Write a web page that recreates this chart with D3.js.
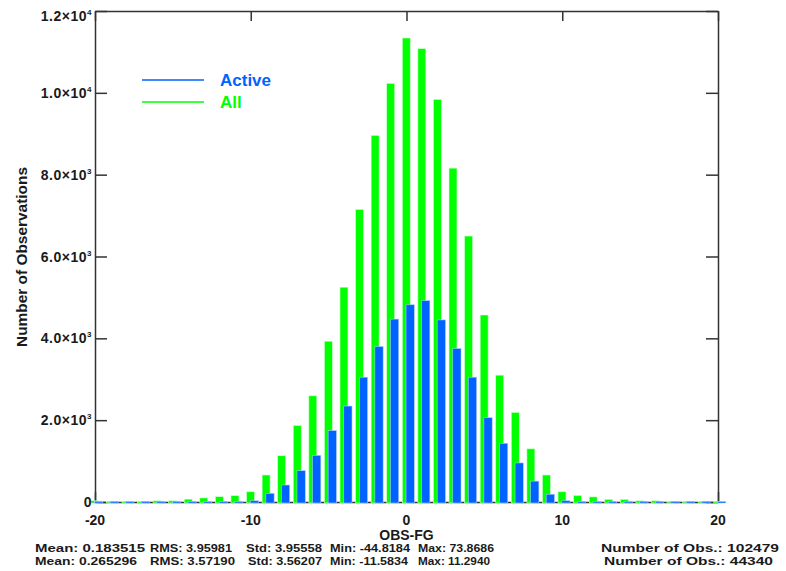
<!DOCTYPE html>
<html>
<head>
<meta charset="utf-8">
<script src="https://cdn.jsdelivr.net/npm/d3@7"></script>
<style>
  body { margin: 0; background: #fff; }
  svg { display: block; }
  text { font-family: "Liberation Sans", Arial, sans-serif; font-weight: bold; fill: #1a1a1a; }
</style>
</head>
<body>
<div id="chart"></div>
<script>
// histogram of OBS-FG, bins of width 1
var binCenters = [-20, -19, -18, -17, -16, -15, -14, -13, -12, -11, -10, -9, -8, -7, -6, -5, -4, -3, -2, -1,
  0, 1, 2, 3, 4, 5, 6, 7, 8, 9, 10, 11, 12, 13, 14, 15, 16, 17, 18, 19, 20];
var allCounts = [30, 8, 8, 8, 30, 30, 70, 100, 130, 155, 250, 660, 1130, 1870, 2595, 3930, 5250, 7150, 8960, 10230,
  11340, 11080, 9840, 8160, 6500, 4570, 3100, 2190, 1300, 660, 250, 160, 125, 65, 65, 30, 30, 8, 8, 8, 8];
var activeCounts = [3, 3, 3, 3, 3, 3, 3, 3, 3, 10, 30, 212, 415, 765, 1140, 1745, 2345, 3050, 3800, 4470,
  4820, 4920, 4450, 3750, 3050, 2060, 1435, 955, 510, 190, 30, 8, 3, 3, 3, 3, 3, 3, 3, 3, 3];

var xTickValues = [-20, -10, 0, 10, 20];
var xTickLabels = ["-20", "-10", "0", "10", "20"];
var yTickValues = [0, 2000, 4000, 6000, 8000, 10000, 12000];
var yTickMantissa = ["0", "2.0", "4.0", "6.0", "8.0", "1.0", "1.2"];
var yTickExponent = ["", "3", "3", "3", "3", "4", "4"];

var legendNames = ["Active", "All"];
var legendColors = ["#0062ff", "#00ff00"];

var statsNames = ["Mean:", "RMS:", "Std:", "Min:", "Max:", "Number of Obs.:"];
var statsAll = ["0.183515", "3.95981", "3.95558", "-44.8184", "73.8686", "102479"];
var statsActive = ["0.265296", "3.57190", "3.56207", "-11.5834", "11.2940", "44340"];

var W = 786, H = 571;
var margin = { top: 11, right: 68, bottom: 69, left: 95 };

var svg = d3.select("#chart").append("svg")
  .attr("width", W)
  .attr("height", H);

var x = d3.scaleLinear().domain([-20, 20]).range([margin.left, W - margin.right]);
var y = d3.scaleLinear().domain([0, 12000]).range([H - margin.bottom, margin.top]);

var axisColor = "#333";

// axes (ticks pointing inward, on all four sides)
function styleAxis(g) {
  g.selectAll("path, line").attr("stroke", axisColor).attr("stroke-width", 1.5);
  g.selectAll("text").remove();
}
svg.append("g")
  .attr("transform", "translate(" + margin.left + ",0)")
  .call(d3.axisLeft(y).tickValues(yTickValues).tickSizeInner(-12).tickSizeOuter(0))
  .call(styleAxis);
svg.append("g")
  .attr("transform", "translate(" + (W - margin.right) + ",0)")
  .call(d3.axisRight(y).tickValues(yTickValues).tickSizeInner(-12).tickSizeOuter(0))
  .call(styleAxis);
svg.append("g")
  .attr("transform", "translate(0," + margin.top + ")")
  .call(d3.axisTop(x).tickValues(xTickValues).tickSizeInner(-10).tickSizeOuter(0))
  .call(styleAxis);
svg.append("g")
  .attr("transform", "translate(0," + (H - margin.bottom) + ")")
  .call(d3.axisBottom(x).tickValues(xTickValues).tickSizeInner(-10).tickSizeOuter(0))
  .call(styleAxis);

// bars: All (green) then Active (blue) shifted right
var base = y(0) + 1;
function barTop(v) { return Math.min(y(v), base - 1.5); }

svg.append("g").selectAll("rect")
  .data(binCenters)
  .join("rect")
  .attr("x", function (d) { return x(d - 0.27); })
  .attr("width", function (d) { return x(d + 0.24) - x(d - 0.27); })
  .attr("y", function (d, i) { return barTop(allCounts[i]); })
  .attr("height", function (d, i) { return base - barTop(allCounts[i]); })
  .attr("fill", legendColors[1])
  .attr("stroke", "#ccffcc")
  .attr("stroke-width", 0.6);

svg.append("g").selectAll("rect")
  .data(binCenters)
  .join("rect")
  .attr("x", function (d) { return x(d - 0.03); })
  .attr("width", function (d) { return x(d + 0.5) - x(d - 0.03); })
  .attr("y", function (d, i) { return barTop(activeCounts[i]); })
  .attr("height", function (d, i) { return base - barTop(activeCounts[i]); })
  .attr("fill", legendColors[0])
  .attr("stroke", "#a8c8ff")
  .attr("stroke-width", 0.6);

// y tick labels with exponents
var yLab = svg.append("g").selectAll("text")
  .data(yTickValues)
  .join("text")
  .attr("x", margin.left - 3)
  .attr("y", function (d) { return Math.max(y(d), 16) + 5; })
  .attr("text-anchor", "end")
  .attr("font-size", 14)
  .attr("letter-spacing", 0.5);
yLab.append("tspan").text(function (d, i) { return yTickMantissa[i] + (yTickExponent[i] ? "\u00d710" : ""); });
yLab.append("tspan")
  .attr("dy", -6)
  .attr("font-size", 8)
  .text(function (d, i) { return yTickExponent[i]; });

// x tick labels
svg.append("g").selectAll("text")
  .data(xTickValues)
  .join("text")
  .attr("x", function (d) { return x(d); })
  .attr("y", H - margin.bottom + 23)
  .attr("text-anchor", "middle")
  .attr("font-size", 14)
  .text(function (d, i) { return xTickLabels[i]; });

// axis titles
svg.append("text")
  .attr("x", x(0))
  .attr("y", H - margin.bottom + 38)
  .attr("text-anchor", "middle")
  .attr("font-size", 14)
  .text("OBS-FG");

svg.append("text")
  .attr("transform", "translate(27,257) rotate(-90)")
  .attr("text-anchor", "middle")
  .attr("font-size", 14)
  .attr("textLength", 180)
  .attr("lengthAdjust", "spacingAndGlyphs")
  .text("Number of Observations");

// legend
var leg = svg.append("g").selectAll("g")
  .data(legendNames)
  .join("g")
  .attr("transform", function (d, i) { return "translate(142," + (80 + i * 22) + ")"; });
leg.append("line")
  .attr("x1", 0).attr("x2", 62)
  .attr("stroke", function (d, i) { return legendColors[i]; })
  .attr("stroke-width", 1.5);
leg.append("text")
  .attr("x", 78)
  .attr("y", 6)
  .attr("font-size", 17)
  .style("fill", function (d, i) { return legendColors[i]; })
  .text(function (d) { return d; });

// statistics lines (column start and width of each field)
var statRows = [
  { vals: statsAll, cols: [35, 150, 246, 330, 418, 601], widths: [110, 82, 76, 80, 76, 178] },
  { vals: statsActive, cols: [35, 150, 248, 330, 418, 604], widths: [102, 85, 74, 78, 72, 169] }
];
statRows.forEach(function (row, r) {
  svg.append("g").selectAll("text")
    .data(statsNames)
    .join("text")
    .attr("x", function (d, i) { return row.cols[i]; })
    .attr("y", 552 + r * 13)
    .attr("font-size", 11)
    .attr("textLength", function (d, i) { return row.widths[i]; })
    .attr("lengthAdjust", "spacingAndGlyphs")
    .text(function (d, i) { return d + " " + row.vals[i]; });
});
</script>
</body>
</html>
